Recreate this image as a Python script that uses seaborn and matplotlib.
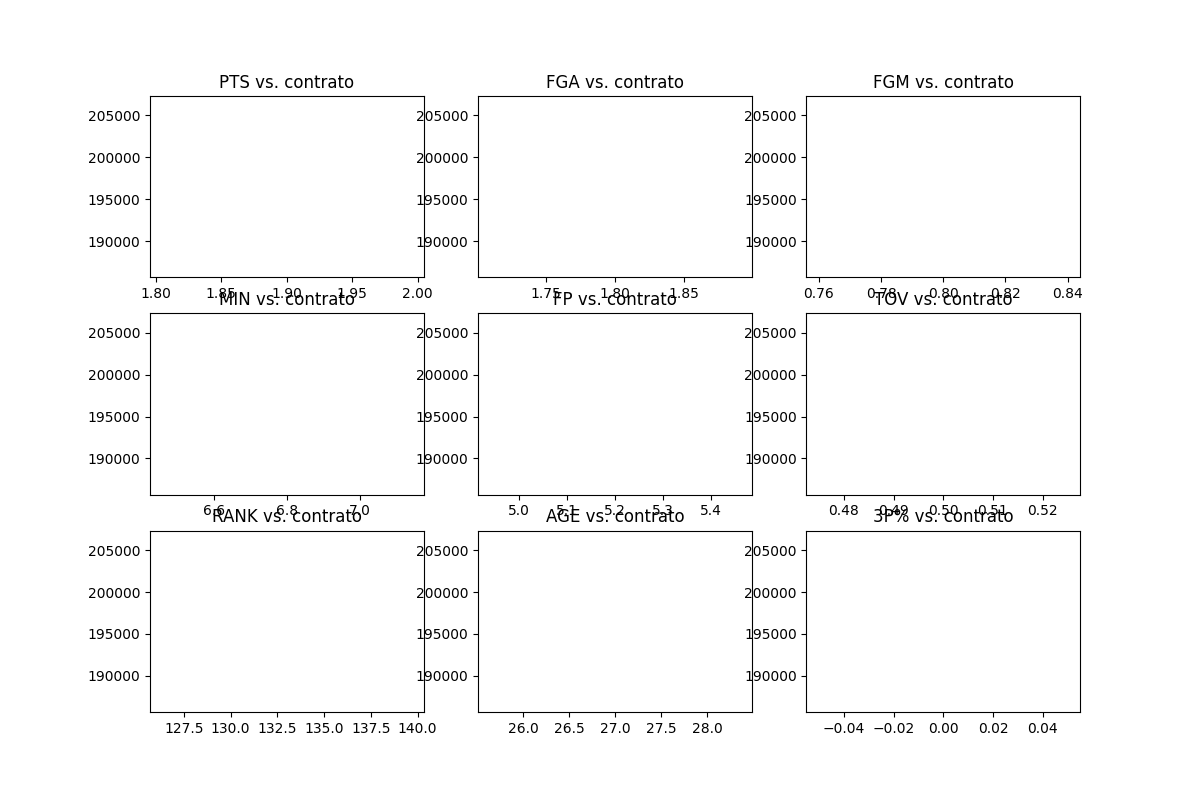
import matplotlib
matplotlib.use("Agg")
import matplotlib.pyplot as plt
import seaborn as sns
import pandas as pd

# --- Data ---
stats = ["PTS", "FGA", "FGM", "MIN", "FP", "TOV", "RANK", "AGE", "3P%"]
stat_values = [1.9, 1.8, 0.8, 6.8, 5.2, 0.5, 133, 27, 0.0]
contrato = [196500] * len(stats)

df = pd.DataFrame({"stat": stats, "valor": stat_values, "contrato": contrato})

# --- Plot grid ---
fig, axes = plt.subplots(3, 3, figsize=(12, 8), dpi=100)

for ax, (_, row) in zip(axes.flat, df.iterrows()):
    sns.lineplot(x=[row["valor"]], y=[row["contrato"]], ax=ax)
    ax.set_title(f"{row['stat']} vs. contrato", fontsize=12)
    ax.set_xlabel("")
    ax.set_ylabel("")

fig.savefig("out.png")
